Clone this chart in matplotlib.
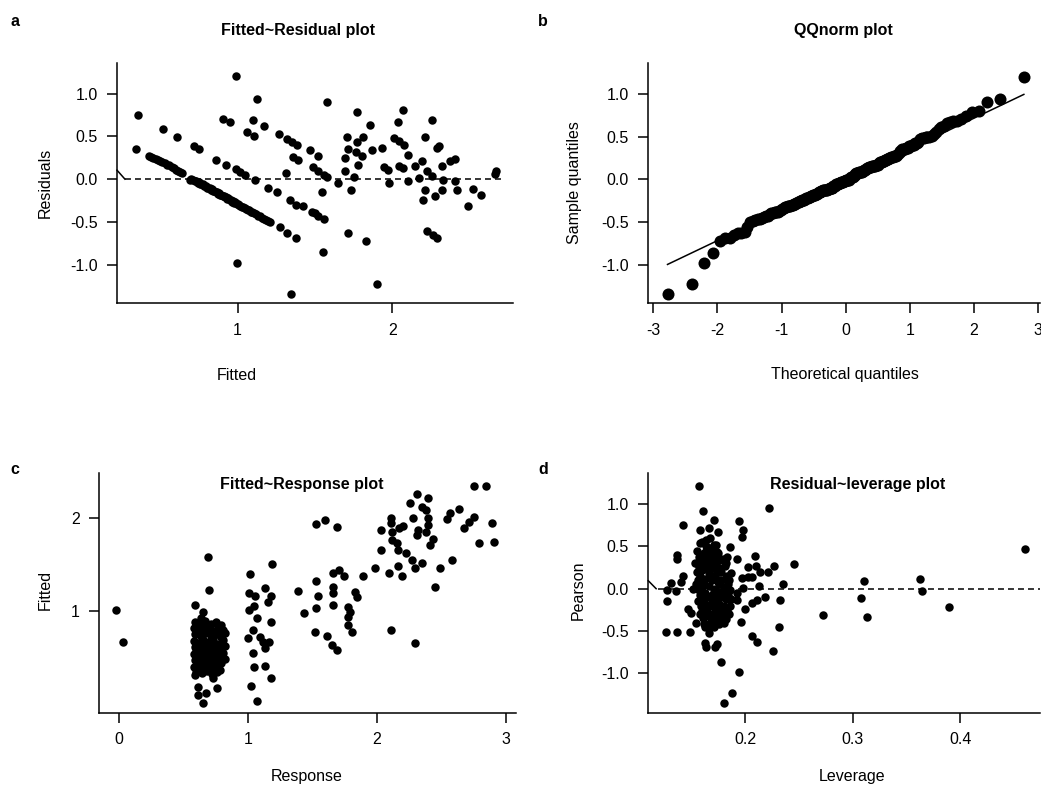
import matplotlib
matplotlib.use("Agg")
import matplotlib.pyplot as plt
import numpy as np
from statistics import NormalDist

plt.rcParams['font.family'] = ['Liberation Sans', 'DejaVu Sans']
plt.rcParams['lines.scale_dashes'] = False

W, H = 1041, 794

# ---- panel a: fitted vs residuals ----
# scattered points
pts_a = [(0.357, 0.746), (0.347, 0.352), (0.519, 0.59), (0.61, 0.488), (0.718, 0.39),
         (0.752, 0.352), (0.86, 0.227), (0.925, 0.168), (0.989, 0.117), (1.019, 0.078),
         (1.047, 0.043), (1.112, -0.008), (1.198, -0.105), (1.257, -0.145), (1.313, 0.07),
         (1.339, -0.25), (1.377, -0.30), (1.274, -0.555), (1.317, -0.633), (1.377, -0.69),
         (0.994, -0.984), (1.343, -1.344), (0.903, 0.703), (0.95, 0.664), (1.058, 0.551),
         (1.108, 0.508), (1.101, 0.688), (1.172, 0.617), (1.123, 0.941), (0.989, 1.205),
         (1.27, 0.531), (1.317, 0.469), (1.349, 0.43), (1.382, 0.402), (1.36, 0.258),
         (1.392, 0.219), (1.468, 0.336), (1.522, 0.273), (1.485, 0.141), (1.522, 0.09),
         (1.558, 0.05), (1.58, 0.023), (1.543, -0.145), (1.425, -0.313), (1.478, -0.379),
         (1.50, -0.40), (1.522, -0.43), (1.558, -0.469), (1.554, -0.859), (1.576, 0.902),
         (1.774, 0.785), (1.856, 0.629), (1.705, 0.492), (1.77, 0.43), (1.813, 0.492),
         (1.714, 0.352), (1.765, 0.313), (1.801, 0.273), (1.694, 0.246), (1.866, 0.336),
         (1.935, 0.363), (1.78, 0.168), (1.694, 0.10), (1.752, 0.023), (1.651, -0.047),
         (1.731, -0.125), (1.716, -0.625), (1.83, -0.723), (1.903, -1.227), (2.067, 0.805),
         (2.035, 0.668), (2.011, 0.48), (2.045, 0.441), (2.075, 0.402), (2.104, 0.285),
         (1.946, 0.141), (1.975, 0.109), (2.045, 0.156), (2.071, 0.129), (1.981, -0.047),
         (2.104, -0.027), (2.147, 0.156), (2.19, 0.207), (2.175, 0.012), (2.212, 0.492),
         (2.255, 0.688), (2.222, 0.09), (2.255, 0.031), (2.212, -0.125), (2.201, -0.242),
         (2.276, -0.203), (2.291, 0.363), (2.304, 0.39), (2.319, 0.156), (2.326, -0.008),
         (2.319, -0.125), (2.373, 0.207), (2.405, 0.234), (2.405, -0.027), (2.416, -0.125),
         (2.524, -0.117), (2.572, -0.184), (2.486, -0.309), (2.227, -0.613), (2.261, -0.652),
         (2.287, -0.691), (2.664, 0.063), (2.671, 0.09)]
# dense band, upper part
band1_a = [(0.425, 0.27), (0.44, 0.262), (0.455, 0.25), (0.47, 0.235), (0.485, 0.228),
           (0.50, 0.215), (0.515, 0.198), (0.53, 0.19), (0.545, 0.17), (0.56, 0.16),
           (0.575, 0.14), (0.59, 0.128), (0.605, 0.11), (0.618, 0.095), (0.63, 0.08),
           (0.64, 0.068)]
# dense band, lower part
band2_a = [(0.690, -0.005), (0.700, -0.003), (0.712, -0.012), (0.722, -0.020), (0.733, -0.025),
           (0.742, -0.040), (0.750, -0.035), (0.758, -0.052), (0.766, -0.060), (0.774, -0.058),
           (0.782, -0.075), (0.790, -0.082), (0.797, -0.078), (0.805, -0.100), (0.812, -0.105),
           (0.820, -0.098), (0.828, -0.125), (0.835, -0.118), (0.843, -0.140), (0.850, -0.135),
           (0.858, -0.155), (0.865, -0.150), (0.873, -0.172), (0.880, -0.168), (0.888, -0.185),
           (0.895, -0.180), (0.903, -0.200), (0.910, -0.195), (0.918, -0.215), (0.925, -0.210),
           (0.933, -0.232), (0.940, -0.225), (0.948, -0.245), (0.955, -0.240), (0.963, -0.262),
           (0.970, -0.258), (0.978, -0.275), (0.986, -0.272), (0.994, -0.290), (1.002, -0.295),
           (1.010, -0.305), (1.018, -0.310), (1.027, -0.322), (1.036, -0.330), (1.045, -0.340),
           (1.055, -0.348), (1.065, -0.360), (1.075, -0.366), (1.085, -0.380), (1.095, -0.388),
           (1.105, -0.398), (1.118, -0.412), (1.130, -0.428), (1.143, -0.437), (1.157, -0.452),
           (1.170, -0.465), (1.183, -0.478), (1.195, -0.492), (1.207, -0.505)]

# ---- panel c: response vs fitted ----
pts_c = [(-0.023, 1.011), (0.028, 0.664), (0.692, 1.585), (0.70, 1.229), (0.589, 1.065),
         (0.649, 0.993), (0.633, 0.922), (0.589, 0.312), (0.615, 0.187), (0.615, 0.098),
         (0.649, 0.009), (0.674, 0.116), (0.731, 0.277), (0.762, 0.167),
         (1.016, 1.398), (1.183, 1.505), (1.01, 1.197), (1.054, 1.161), (1.132, 1.243),
         (1.176, 1.161), (1.158, 1.100), (1.01, 1.011), (1.047, 1.054), (1.067, 0.922),
         (1.176, 0.879), (1.041, 0.797), (1.003, 0.706), (1.093, 0.724), (1.119, 0.671),
         (1.165, 0.671), (1.132, 0.599), (1.041, 0.545), (1.047, 0.395), (1.132, 0.409),
         (1.176, 0.277), (1.021, 0.194), (1.072, 0.036),
         (1.527, 1.932), (1.597, 1.979), (1.687, 1.907), (1.385, 1.219), (1.527, 1.327),
         (1.545, 1.161), (1.527, 1.029), (1.434, 0.975), (1.519, 0.778), (1.61, 0.731),
         (1.649, 0.634), (1.687, 0.580), (1.661, 1.406), (1.708, 1.442), (1.744, 1.377),
         (1.661, 1.262), (1.661, 1.197), (1.661, 1.065), (1.778, 1.047), (1.79, 0.993),
         (1.778, 0.939), (1.829, 1.207), (1.848, 1.147), (1.778, 0.850), (1.804, 0.778),
         (1.889, 1.377), (1.987, 1.460), (2.096, 1.406), (2.109, 0.797), (2.295, 0.653),
         (2.307, 2.255), (2.256, 2.165), (2.398, 2.219), (2.346, 2.115), (2.38, 2.086),
         (2.109, 1.996), (2.109, 1.950), (2.281, 1.996), (2.398, 1.996), (2.398, 1.925),
         (2.38, 1.854), (2.031, 1.871), (2.116, 1.854), (2.173, 1.889), (2.204, 1.914),
         (2.116, 1.764), (2.155, 1.735), (2.32, 1.871), (2.307, 1.818), (2.437, 1.771),
         (2.411, 1.711), (2.031, 1.656), (2.165, 1.656), (2.225, 1.621), (2.269, 1.550),
         (2.346, 1.513), (2.295, 1.460), (2.165, 1.484), (2.191, 1.377), (2.488, 1.460),
         (2.579, 1.550), (2.45, 1.254), (2.54, 1.986), (2.566, 2.057), (2.638, 2.093),
         (2.674, 1.889), (2.716, 1.961), (2.752, 2.007), (2.752, 2.348), (2.845, 2.348),
         (2.889, 1.950), (2.793, 1.729), (2.907, 1.746)]
# dense cluster near response 0.7
cluster_c = [(0.59, 0.88), (0.63, 0.87), (0.67, 0.89), (0.71, 0.86), (0.75, 0.88), (0.79, 0.85),
             (0.58, 0.82), (0.61, 0.80), (0.65, 0.83), (0.69, 0.81), (0.73, 0.79), (0.77, 0.83),
             (0.81, 0.80), (0.59, 0.75), (0.63, 0.74), (0.67, 0.76), (0.71, 0.73), (0.75, 0.75),
             (0.79, 0.72), (0.82, 0.76), (0.58, 0.68), (0.61, 0.66), (0.65, 0.69), (0.69, 0.67),
             (0.73, 0.68), (0.77, 0.65), (0.81, 0.69), (0.59, 0.61), (0.63, 0.60), (0.67, 0.62),
             (0.71, 0.59), (0.75, 0.61), (0.79, 0.58), (0.82, 0.62), (0.58, 0.54), (0.61, 0.53),
             (0.65, 0.55), (0.69, 0.52), (0.73, 0.54), (0.77, 0.51), (0.81, 0.55), (0.59, 0.47),
             (0.63, 0.46), (0.67, 0.48), (0.71, 0.45), (0.75, 0.47), (0.79, 0.44), (0.82, 0.48),
             (0.58, 0.40), (0.62, 0.39), (0.66, 0.41), (0.70, 0.38), (0.74, 0.40), (0.78, 0.37),
             (0.60, 0.34), (0.64, 0.33), (0.68, 0.35), (0.72, 0.32), (0.76, 0.34), (0.60, 0.85),
             (0.69, 0.84), (0.77, 0.78), (0.64, 0.71), (0.72, 0.64), (0.80, 0.65), (0.60, 0.57),
             (0.68, 0.58), (0.76, 0.57), (0.64, 0.50), (0.72, 0.49), (0.80, 0.51), (0.61, 0.43),
             (0.69, 0.42), (0.77, 0.43), (0.73, 0.71), (0.66, 0.79), (0.62, 0.64)]

# ---- panel d: leverage vs pearson ----
pts_d = [(0.1567, 1.213), (0.161, 0.917), (0.1706, 0.811), (0.142, 0.752), (0.158, 0.693),
         (0.166, 0.713), (0.175, 0.673), (0.194, 0.80), (0.198, 0.693), (0.197, 0.614),
         (0.2226, 0.957), (0.158, 0.543), (0.164, 0.575), (0.169, 0.476), (0.186, 0.488),
         (0.137, 0.398), (0.137, 0.346), (0.174, 0.437), (0.177, 0.339), (0.183, 0.378),
         (0.192, 0.346), (0.2087, 0.39), (0.157, 0.26), (0.164, 0.30), (0.171, 0.24),
         (0.2025, 0.252), (0.21, 0.268), (0.214, 0.20), (0.221, 0.20), (0.227, 0.268),
         (0.245, 0.291), (0.142, 0.154), (0.131, 0.071), (0.127, -0.016), (0.136, -0.024),
         (0.1275, -0.142), (0.14, 0.083), (0.1515, 0.0), (0.197, 0.122), (0.203, 0.142),
         (0.206, 0.134), (0.198, 0.004), (0.213, 0.031), (0.235, 0.055), (0.147, -0.244),
         (0.15, -0.29), (0.1545, -0.40), (0.2, -0.244), (0.206, -0.173), (0.211, -0.134),
         (0.2186, -0.102), (0.232, -0.134), (0.192, -0.047), (0.192, -0.134), (0.196, -0.39),
         (0.18, -0.41), (0.1267, -0.508), (0.137, -0.508), (0.149, -0.508), (0.163, -0.449),
         (0.169, -0.441), (0.166, -0.528), (0.231, -0.449), (0.2068, -0.559), (0.2114, -0.626),
         (0.2263, -0.732), (0.163, -0.638), (0.164, -0.685), (0.174, -0.654), (0.172, -0.693),
         (0.1774, -0.862), (0.1947, -0.988), (0.1882, -1.228), (0.180, -1.346), (0.2727, -0.311),
         (0.3104, 0.094), (0.3076, -0.106), (0.3129, -0.331), (0.3623, 0.114), (0.3639, -0.024),
         (0.3895, -0.213), (0.4604, 0.465)]
# dense clump around leverage 0.17
clump_d = [(0.155, 0.45), (0.158, 0.40), (0.160, 0.35), (0.162, 0.42), (0.165, 0.38), (0.168, 0.33),
           (0.170, 0.40), (0.173, 0.30), (0.176, 0.25), (0.179, 0.35), (0.155, 0.20), (0.158, 0.15),
           (0.160, 0.22), (0.163, 0.12), (0.166, 0.18), (0.169, 0.10), (0.172, 0.15), (0.175, 0.08),
           (0.178, 0.20), (0.181, 0.12), (0.184, 0.05), (0.187, 0.18), (0.154, 0.05), (0.157, -0.02),
           (0.160, 0.02), (0.163, -0.05), (0.166, 0.03), (0.169, -0.08), (0.172, 0.00), (0.175, -0.04),
           (0.178, -0.10), (0.181, -0.02), (0.184, -0.08), (0.187, -0.12), (0.156, -0.15), (0.159, -0.20),
           (0.162, -0.12), (0.165, -0.25), (0.168, -0.18), (0.171, -0.22), (0.174, -0.15), (0.177, -0.28),
           (0.180, -0.20), (0.183, -0.25), (0.158, -0.30), (0.161, -0.35), (0.164, -0.32), (0.167, -0.40),
           (0.170, -0.30), (0.173, -0.38), (0.176, -0.42), (0.179, -0.33), (0.182, -0.36), (0.185, -0.30),
           (0.160, 0.55), (0.164, 0.50), (0.167, 0.60), (0.171, 0.52), (0.157, 0.28), (0.161, 0.30),
           (0.165, 0.26), (0.169, 0.24), (0.174, 0.20), (0.177, 0.10), (0.180, 0.02), (0.186, -0.02),
           (0.162, -0.42), (0.166, -0.46), (0.171, -0.45), (0.176, -0.35), (0.153, 0.30), (0.156, 0.10),
           (0.159, 0.33), (0.161, 0.08), (0.163, 0.25), (0.164, 0.45), (0.167, 0.13), (0.168, 0.48),
           (0.170, 0.28), (0.171, -0.02), (0.172, 0.35), (0.174, -0.25), (0.175, 0.42), (0.177, 0.05),
           (0.178, -0.38), (0.179, -0.05), (0.181, 0.27), (0.182, -0.12), (0.183, 0.15), (0.185, 0.10),
           (0.186, -0.20), (0.158, -0.08), (0.160, -0.26), (0.163, -0.18), (0.166, -0.10), (0.168, -0.33),
           (0.170, -0.12), (0.173, -0.07), (0.176, -0.18), (0.179, -0.26), (0.182, 0.30), (0.157, 0.37),
           (0.167, 0.45), (0.173, 0.52)]

titles = ["Fitted~Residual plot", "QQnorm plot", "Fitted~Response plot", "Residual~leverage plot"]
letters = ["a", "b", "c", "d"]

fitted_a, resid_a = map(np.array, zip(*(pts_a + band1_a + band2_a)))
resp_c, fitted_c = map(np.array, zip(*(pts_c + cluster_c)))
lev_d, pear_d = map(np.array, zip(*(pts_d + clump_d)))

# qq values from the residuals
n = len(resid_a)
sample_q = np.sort(resid_a)
theo_q = np.array([NormalDist().inv_cdf((i + 0.5) / n) for i in range(n)])
q1, q3 = np.quantile(resid_a, [0.25, 0.75])
z1, z3 = NormalDist().inv_cdf(0.25), NormalDist().inv_cdf(0.75)
slope = (q3 - q1) / (z3 - z1)
icpt = q1 - slope * z1

fig = plt.figure(figsize=(W / 100, H / 100), dpi=100)


def px_axes(l, t, r, b):
    return fig.add_axes([l / W, 1 - b / H, (r - l) / W, (b - t) / H])


def style(ax):
    for s in ["top", "right"]:
        ax.spines[s].set_visible(False)
    for s in ["left", "bottom"]:
        ax.spines[s].set_linewidth(1.1)
    ax.tick_params(direction="out", length=7, width=1.1, pad=7, labelsize=11.5)


def ftext(x, y, s, **kw):
    fig.text(x / W, 1 - y / H, s, ha="center", va="center", fontsize=11.5, **kw)


axa = px_axes(117, 63, 513, 303.3)
axb = px_axes(648.3, 63.3, 1040, 303.3)
axc = px_axes(99, 473, 516, 712.7)
axd = px_axes(648.3, 473, 1040, 712.7)

dot = dict(s=37, color="black", linewidths=0, zorder=3)
dash = (0, (4.3, 2.9))

# a
axa.scatter(fitted_a, resid_a, **dot)
axa.axhline(0, xmin=0.02, xmax=0.98, color="black", lw=1.1, ls=dash)
axa.plot([0, 0.02], [0.105, 0.0], color="black", lw=1.1, transform=axa.get_yaxis_transform(),
         clip_on=False)
axa.set_xlim(0.221, 2.78)
axa.set_ylim(-1.454, 1.36)
axa.set_xticks([1, 2])
axa.set_yticks([-1.0, -0.5, 0.0, 0.5, 1.0])
axa.set_yticklabels(["-1.0", "-0.5", "0.0", "0.5", "1.0"])

# b
axb.scatter(theo_q, sample_q, s=75, color="black", linewidths=0, zorder=3)
xl = np.array([theo_q[0], theo_q[-1]])
axb.plot(xl, icpt + slope * xl, color="black", lw=1.1)
axb.set_xlim(-3.078, 3.03)
axb.set_ylim(-1.454, 1.36)
axb.set_xticks([-3, -2, -1, 0, 1, 2, 3])
axb.set_yticks([-1.0, -0.5, 0.0, 0.5, 1.0])
axb.set_yticklabels(["-1.0", "-0.5", "0.0", "0.5", "1.0"])
axb.set_xticklabels(["-3", "-2", "-1", "0", "1", "2", "3"])

# c
axc.scatter(resp_c, fitted_c, **dot)
axc.set_xlim(-0.155, 3.078)
axc.set_ylim(-0.094, 2.484)
axc.set_xticks([0, 1, 2, 3])
axc.set_yticks([1, 2])

# d
axd.scatter(lev_d, pear_d, **dot)
axd.axhline(0, xmin=0.025, xmax=1.0, color="black", lw=1.1, ls=dash)
axd.plot([0, 0.02], [0.094, 0.0], color="black", lw=1.1, transform=axd.get_yaxis_transform(),
         clip_on=False)
axd.set_xlim(0.110, 0.474)
axd.set_ylim(-1.464, 1.366)
axd.set_xticks([0.2, 0.3, 0.4])
axd.set_yticks([-1.0, -0.5, 0.0, 0.5, 1.0])
axd.set_yticklabels(["-1.0", "-0.5", "0.0", "0.5", "1.0"])

for ax in (axa, axb, axc, axd):
    style(ax)

# titles, letters, axis labels
ftext(298, 31, titles[0], fontweight="bold")
ftext(843, 31, titles[1], fontweight="bold")
ftext(302, 484, titles[2], fontweight="bold")
ftext(858, 484, titles[3], fontweight="bold")
ftext(15, 22, letters[0], fontweight="bold")
ftext(543, 22, letters[1], fontweight="bold")
ftext(15, 470, letters[2], fontweight="bold")
ftext(543, 470, letters[3], fontweight="bold")

ftext(237, 375, "Fitted")
ftext(845, 375, "Theoretical quantiles")
ftext(307, 776, "Response")
ftext(852, 776, "Leverage")
ftext(45, 183, "Residuals", rotation=90)
ftext(575, 183, "Sample quantiles", rotation=90)
ftext(45, 590, "Fitted", rotation=90)
ftext(578, 590, "Pearson", rotation=90)

fig.savefig("out.png", dpi=100)
